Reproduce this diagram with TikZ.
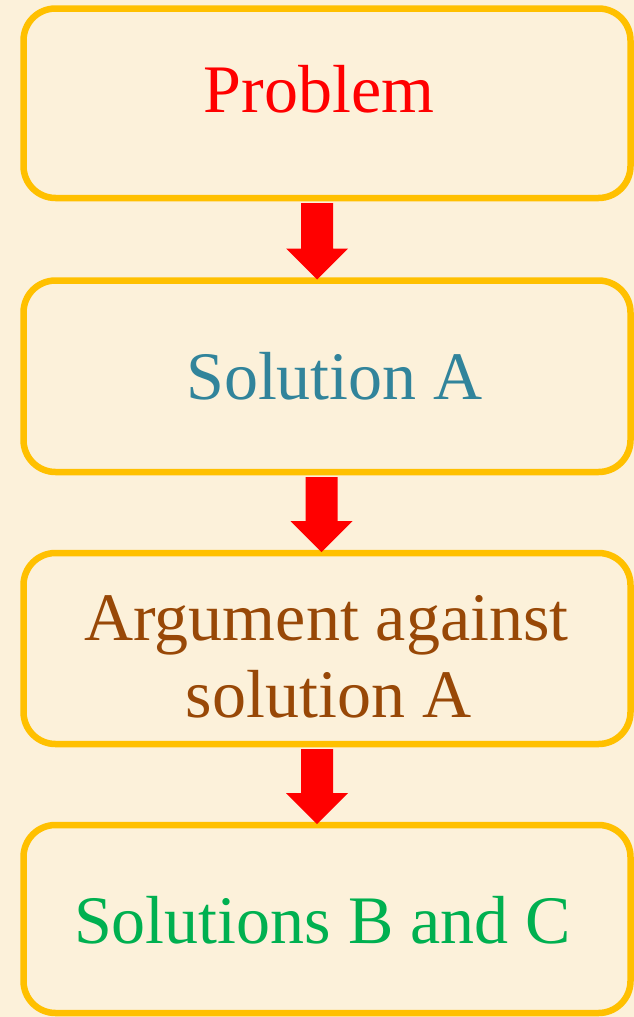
\documentclass[tikz,border=0pt]{standalone}
\usepackage{fontspec}
\setmainfont{Liberation Serif}
\usetikzlibrary{calc}
\definecolor{parch}{HTML}{FCF1DA}
\definecolor{boxline}{HTML}{FFC000}
\definecolor{arrowred}{HTML}{FF0000}
\definecolor{teal}{HTML}{31849B}
\definecolor{brownish}{HTML}{984807}
\definecolor{greenish}{HTML}{00B050}
\newcommand\blockarrow[3]{%
  \coordinate (#1t) at ($(#1.south)+(#3,-5)$);
  \coordinate (#1h) at ($(#2.north)+(#3,1)$);
  \fill[arrowred] ($(#1t)+(-16,0)$) -- ($(#1t)+(16,0)$) -- ($(#1h)+(16,31)$) -- ($(#1h)+(31,31)$) -- (#1h) -- ($(#1h)+(-31,31)$) -- ($(#1h)+(-16,31)$) -- cycle;}
\begin{document}
\begin{tikzpicture}[x=1pt,y=1pt,
  stepbox/.style={draw=boxline, line width=6.5pt, rectangle, rounded corners=32pt,
    minimum width=607pt, outer sep=0pt, inner sep=0pt},
  label/.style={anchor=base, inner sep=0pt, font=\fontsize{68}{77}\selectfont}]
\fill[parch] (0,0) rectangle (634,-1017);
\useasboundingbox (0,0) rectangle (634,-1017);
\node[stepbox, minimum height=189.5pt] (b1) at (327,-103.25) {};
\node[stepbox, minimum height=191.5pt] (b2) at (327,-376.25) {};
\node[stepbox, minimum height=191pt] (b3) at (327,-648.5) {};
\node[stepbox, minimum height=188pt] (b4) at (327,-919) {};
\node[label, text=arrowred] (t1) at (319,-112) {Problem};
\node[label, text=teal] (t2) at (334.5,-399) {Solution A};
\node[label, text=brownish] (t3a) at (326.5,-640) {Argument against};
\node[label, text=brownish] (t3b) at (328.5,-717) {solution A};
\node[label, text=greenish] (t4) at (322.5,-943) {Solutions B and C};
\blockarrow{b1}{b2}{-10}
\blockarrow{b2}{b3}{-5.5}
\blockarrow{b3}{b4}{-10}
\end{tikzpicture}
\end{document}
